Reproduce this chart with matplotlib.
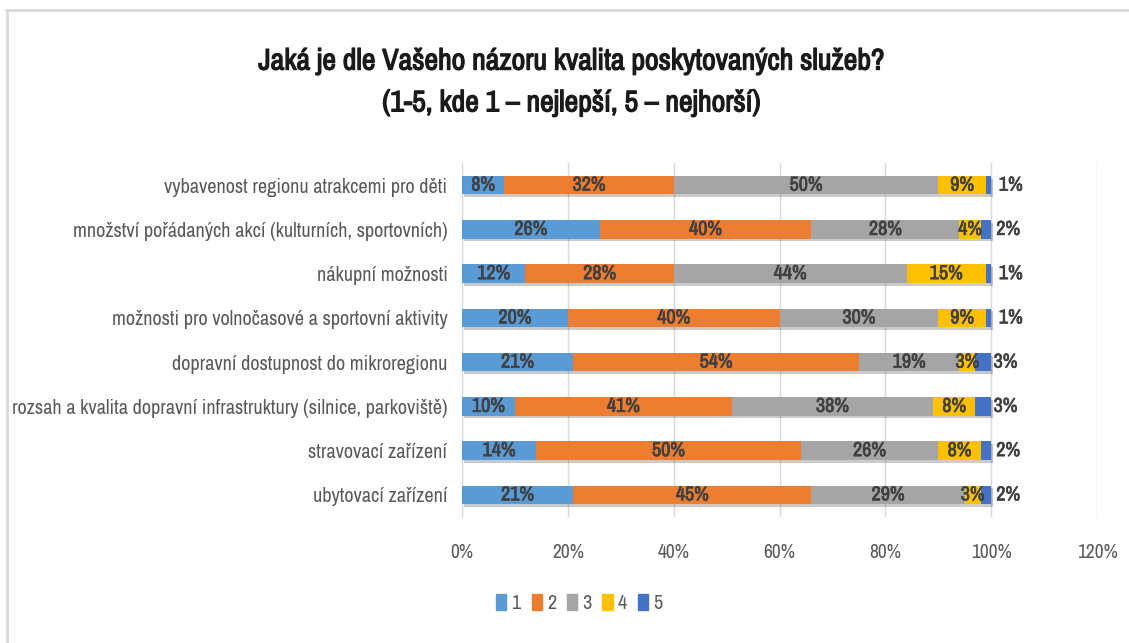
import matplotlib
matplotlib.use("Agg")
import matplotlib.pyplot as plt
from matplotlib import font_manager
import matplotlib.patheffects as pe
from matplotlib.lines import Line2D
from matplotlib.patches import Rectangle

available = sorted({f.name for f in font_manager.fontManager.ttflist})
cands = [n for n in available if "Condensed" in n or "Narrow" in n]
FONT = cands[0] if cands else "Lato"
plt.rcParams['font.family'] = [FONT, 'DejaVu Sans']

categories = [
    "vybavenost regionu atrakcemi pro děti",
    "množství pořádaných akcí (kulturních, sportovních)",
    "nákupní možnosti",
    "možnosti pro volnočasové a sportovní aktivity",
    "dopravní dostupnost do mikroregionu",
    "rozsah a kvalita dopravní infrastruktury (silnice, parkoviště)",
    "stravovací zařízení",
    "ubytovací zařízení",
]
series_names = ["1", "2", "3", "4", "5"]
s1 = [8, 26, 12, 20, 21, 10, 14, 21]
s2 = [32, 40, 28, 40, 54, 41, 50, 45]
s3 = [50, 28, 44, 30, 19, 38, 26, 29]
s4 = [9, 4, 15, 9, 3, 8, 8, 3]
s5 = [1, 2, 1, 1, 3, 3, 2, 2]
series = [s1, s2, s3, s4, s5]
colors = ["#5B9BD5", "#ED7D31", "#A5A5A5", "#FFC000", "#4472C4"]
xticks = [0, 20, 40, 60, 80, 100, 120]

LBL = "#404040"
bold_lbl = [pe.withStroke(linewidth=0.5, foreground=LBL)]
TITLE_C = "#1a1a1a"
bold_title = [pe.withStroke(linewidth=0.9, foreground=TITLE_C)]

fig = plt.figure(figsize=(11.29, 6.43), dpi=100)
ax = fig.add_axes([0.4092, 0.196, 0.5625, 0.5505])

y = list(range(len(categories)))
left = [0] * len(categories)
shadow = [pe.SimplePatchShadow(offset=(1.5, -2), alpha=0.25), pe.Normal()]
for si, (vals, col, name) in enumerate(zip(series, colors, series_names)):
    bars = ax.barh(y, vals, left=left, height=0.42, color=col, label=name, zorder=3)
    for b in bars:
        b.set_path_effects(shadow)
    for i, v in enumerate(vals):
        cx = left[i] + v / 2
        if si == 4:
            t = ax.annotate(f"{v}%", (cx, i), xytext=(16, 0), textcoords="offset points",
                            ha="center", va="center", fontsize=14.5, color=LBL, zorder=5)
        else:
            t = ax.text(cx, i, f"{v}%", ha="center", va="center", fontsize=14.5,
                        color=LBL, zorder=5)
        t.set_path_effects(bold_lbl)
    left = [l + v for l, v in zip(left, vals)]

ax.set_xlim(0, 120)
ax.set_ylim(len(categories) - 0.5, -0.5)
ax.set_xticks(xticks)
ax.set_xticklabels([f"{t}%" for t in xticks], fontsize=14, color="#595959")
ax.set_yticks(y)
ax.set_yticklabels(categories, fontsize=14.6, color="#595959")
ax.tick_params(axis="both", length=0)
ax.tick_params(axis="x", pad=19)
ax.tick_params(axis="y", pad=10.5)
ax.grid(axis="x", color="#D9D9D9", linewidth=1, zorder=0)
for s in ["top", "right", "bottom"]:
    ax.spines[s].set_visible(False)
ax.spines["left"].set_color("#D9D9D9")

t1 = fig.text(0.506, 0.905, "Jaká je dle Vašeho názoru kvalita poskytovaných služeb?",
              ha="center", va="center", fontsize=21.5, color=TITLE_C)
t2 = fig.text(0.506, 0.84, "(1-5, kde 1 – nejlepší, 5 – nejhorší)",
              ha="center", va="center", fontsize=21.5, color=TITLE_C)
t1.set_path_effects(bold_title)
t2.set_path_effects(bold_title)

handles = [Rectangle((0, 0), 1, 1, color=c) for c in colors]
fig.legend(handles, series_names, loc="center", bbox_to_anchor=(0.513, 0.062),
           ncol=5, frameon=False, fontsize=14.5, handlelength=0.5, handleheight=0.85,
           handletextpad=0.25, columnspacing=0.55, labelcolor="#595959")

fig.add_artist(Line2D([0.005, 1.0], [0.984, 0.984], color="#D9D9D9", lw=2, transform=fig.transFigure))
fig.add_artist(Line2D([0.006, 0.006], [0.0, 0.984], color="#D9D9D9", lw=2, transform=fig.transFigure))

fig.savefig("out.png", dpi=100)
